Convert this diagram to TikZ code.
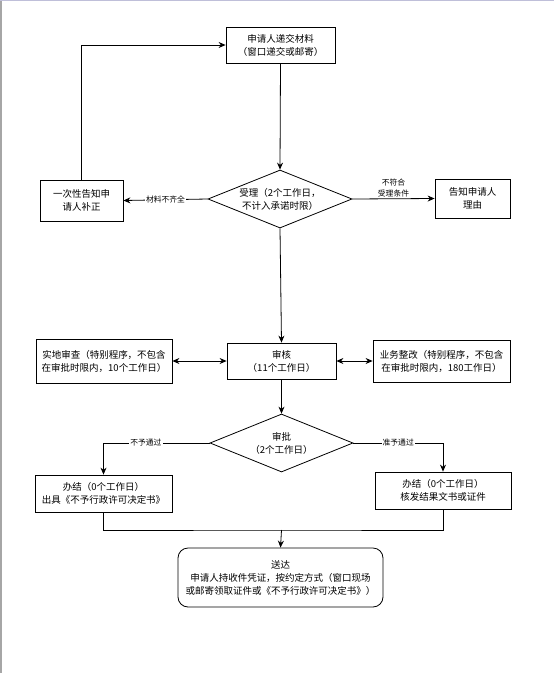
\documentclass[tikz,border=0pt]{standalone}
\usepackage{fontspec}
\newfontfamily\cjk{Noto Sans CJK SC}
\usetikzlibrary{shapes.geometric,arrows.meta}

\tikzset{
  procbox/.style={
    draw=black, line width=0.8pt, fill=white,
    align=center, inner sep=2pt,
    font=\cjk\fontsize{9.5}{13}\selectfont
  },
  decision/.style={
    diamond, aspect=2.5, draw=black, line width=0.8pt, fill=white,
    align=center, inner sep=0pt,
    font=\cjk\fontsize{9.5}{13}\selectfont
  },
  endbox/.style={
    procbox, rounded corners=10pt
  },
  branchlabel/.style={
    fill=white, inner sep=1pt, align=center,
    font=\cjk\fontsize{7.8}{11}\selectfont
  },
  link/.style={line width=0.8pt},
  flow/.style={link, -{Stealth[length=7pt,width=6pt]}},
  twoway/.style={link, {Stealth[length=7pt,width=6pt]}-{Stealth[length=7pt,width=6pt]}},
}

\begin{document}
\begin{tikzpicture}[x=1pt, y=-1pt]

\useasboundingbox (0,0) rectangle (554,673);
\fill[white] (0,0) rectangle (554,673);
\draw[gray!70, line width=1.5pt] (0.75,0) -- (0.75,673);
\draw[blue!25!gray!40, line width=1pt] (0,0.5) -- (554,0.5);

%% Application
\node[procbox, minimum width=109pt, minimum height=36pt] (apply) at (280.5,45)
  {申请人递交材料\\（窗口递交或邮寄）};

%% Acceptance decision
\node[decision, minimum width=144pt, minimum height=58pt] (accept) at (280,199)
  {受理（2个工作日，\\不计入承诺时限）};

\node[procbox, minimum width=83pt, minimum height=41pt] (notify) at (81.5,200.5)
  {一次性告知申\\请人补正};

\node[procbox, minimum width=75pt, minimum height=39pt] (reject) at (472.5,198.5)
  {告知申请人\\理由};

%% Review row
\node[procbox, minimum width=109pt, minimum height=36pt] (review) at (281.5,361)
  {审核\\（11个工作日）};

\node[procbox, minimum width=136pt, minimum height=44pt] (survey) at (104,361)
  {实地审查（特别程序，不包含\\在审批时限内，10个工作日）};

\node[procbox, minimum width=137pt, minimum height=42pt] (rectify) at (441.5,361)
  {业务整改（特别程序，不包含\\在审批时限内，180工作日）};

%% Approval decision
\node[decision, minimum width=143pt, minimum height=58pt] (approve) at (281.5,443)
  {审批\\（2个工作日）};

\node[procbox, minimum width=137pt, minimum height=37pt] (deny) at (103.5,493.5)
  {办结（0个工作日）\\出具《不予行政许可决定书》};

\node[procbox, minimum width=136pt, minimum height=37pt] (grant) at (443,490.5)
  {办结（0个工作日）\\核发结果文书或证件};

%% Delivery
\node[endbox, minimum width=205pt, minimum height=59pt] (deliver) at (280.5,577.5)
  {送达\\申请人持收件凭证，按约定方式（窗口现场\\或邮寄领取证件或《不予行政许可决定书》）};

\coordinate (join) at (281.5,530);

%% Connectors
\draw[flow] (apply.south) -- (accept.north);
\draw[flow] (notify.north) |- (apply.west);
\draw[flow] (accept.west) -- node[branchlabel] {材料不齐全} (notify.east);
\draw[flow] (accept.east) -- node[branchlabel, above=0pt] {不符合\\受理条件} (reject.west);
\draw[flow] (accept.south) -- (review.north);
\draw[twoway] (survey.east) -- (review.west);
\draw[twoway] (review.east) -- (rectify.west);
\draw[flow] (review.south) -- (approve.north);
\draw[flow] (approve.west) -| node[branchlabel, pos=0.3] {不予通过} (deny.north);
\draw[flow] (approve.east) -| node[branchlabel, pos=0.25] {准予通过} (grant.north);
\draw[link] (deny.south) |- (join) -| (grant.south);
\draw[flow] (join) -- (deliver.north);

\end{tikzpicture}
\end{document}
